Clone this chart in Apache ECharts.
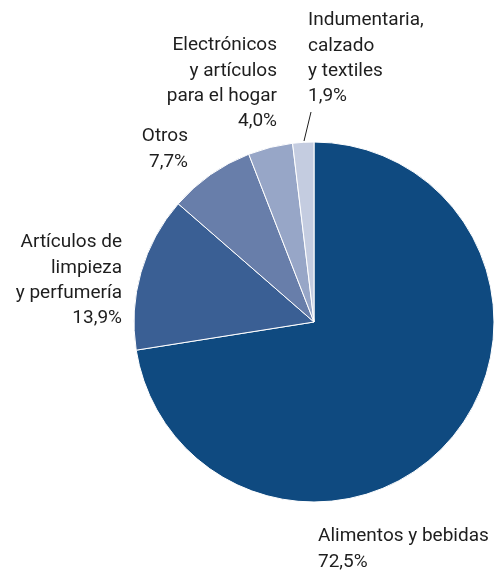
<!DOCTYPE html>
<html>
<head>
<meta charset="utf-8">
<script src="https://cdn.jsdelivr.net/npm/echarts@6/dist/echarts.min.js"></script>
<style>
  html, body { margin: 0; padding: 0; background: #fff; }
  #chart { width: 495px; height: 574px; }
</style>
</head>
<body>
<div id="chart"></div>
<script>
  // datos
  const categories = [
    'Alimentos y bebidas',
    'Artículos de\nlimpieza\ny perfumería',
    'Otros',
    'Electrónicos\ny artículos\npara el hogar',
    'Indumentaria,\ncalzado\ny textiles'
  ]
  const values = [72.5, 13.9, 7.7, 4.0, 1.9]
  const colors = ['#0f4a80', '#3a5f94', '#687eaa', '#97a6c7', '#c4cce0']

  // posición de cada etiqueta [x, y, align]
  const labelPos = [
    [318, 524, 'left'],
    [122, 230, 'right'],
    [188, 124, 'right'],
    [277, 33, 'right'],
    [308, 8, 'left']
  ]

  let chart = echarts.init(document.getElementById('chart'))

  chart.setOption({
    animation: false,
    graphic: [
      {
        // línea guía de "Indumentaria"
        type: 'line',
        shape: { x1: 304, y1: 141, x2: 311, y2: 112 },
        style: { stroke: '#1e1e1e', lineWidth: 1 }
      }
    ],
    series: [
      {
        type: 'pie',
        center: [314, 322],
        radius: [0, 180],
        startAngle: 90,
        clockwise: true,
        itemStyle: {
          borderColor: '#fff',
          borderWidth: 1
        },
        label: {
          show: true,
          position: 'outside',
          overflow: 'none',
          formatter: function (p) {
            return '{n|' + p.name.split('\n').join('}\n{n|') + '}\n{n|' + p.value.toFixed(1).replace('.', ',') + '%}'
          },
          rich: {
            n: {
              fontFamily: 'Roboto',
              fontSize: 19,
              lineHeight: 25.3,
              color: '#1e1e1e'
            }
          }
        },
        labelLine: { show: false },
        labelLayout: function (params) {
          let pos = labelPos[params.dataIndex]
          return {
            x: pos[0],
            y: pos[1],
            align: pos[2],
            verticalAlign: 'top'
          }
        },
        data: categories.map((c, i) => ({
          name: c,
          value: values[i],
          itemStyle: { color: colors[i] },
          label: { align: labelPos[i][2] }
        }))
      }
    ]
  })
</script>
</body>
</html>
